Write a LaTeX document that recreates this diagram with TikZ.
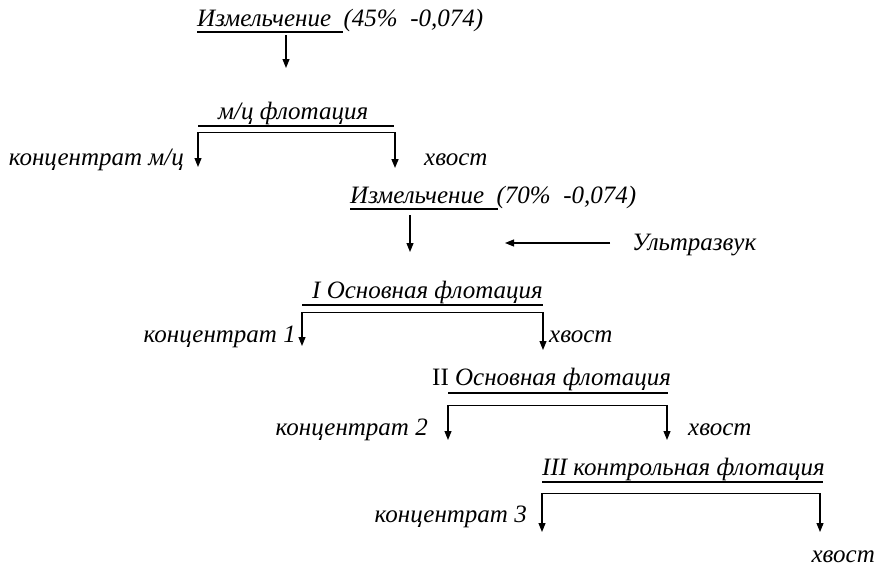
\documentclass[tikz,border=0pt]{standalone}
\usepackage{fontspec}
\setmainfont{Liberation Serif}
\usetikzlibrary{arrows.meta}
\tikzset{
  lbl/.style={inner sep=0pt, anchor=base west, font=\fontsize{25}{29}\selectfont\itshape},
  lble/.style={lbl, anchor=base east},
  ulin/.style={line width=1.4pt},
  seclin/.style={line width=0.9pt},
  arr/.style={line width=1.1pt, -{Triangle[width=7pt,length=9pt]}},
}
\begin{document}
\begin{tikzpicture}[x=1pt,y=-1pt]
\useasboundingbox (0,0) rectangle (877,570);
% stage 1
\node[lbl] (g1) at (197,27) {Измельчение\ \ (45\%\ \ -0,074)};
\draw[ulin] (197,32) -- (343,32);
\coordinate (a1s) at (286,35); \coordinate (a1e) at (286,68);
\draw[arr] (a1s) -- (a1e);
% stage 2
\node[lbl] (f1) at (218,119) {м/ц флотация};
\draw[ulin] (198,126) -- (394,126);
\coordinate (f1l) at (198,132); \coordinate (f1r) at (395,132);
\draw[seclin] (f1l) -- (f1r);
\node[lble] (c0) at (184,165) {концентрат м/ц};
\node[lbl] (h0) at (424,165) {хвост};
\coordinate (f1le) at (198,167); \coordinate (f1re) at (395,168);
\draw[arr] (f1l) -- (f1le);
\draw[arr, line width=1.6pt] (f1r) -- (f1re);
% stage 3
\node[lbl] (g2) at (350,203) {Измельчение\ \ (70\%\ \ -0,074)};
\draw[ulin] (350,209) -- (498,209);
\coordinate (a2s) at (410,215); \coordinate (a2e) at (410,252);
\draw[arr] (a2s) -- (a2e);
\node[lbl] (u) at (632,250) {Ультразвук};
\coordinate (us) at (610,243); \coordinate (ue) at (505,243);
\draw[arr] (us) -- (ue);
% stage 4
\node[lbl] (t1) at (312,298) {I Основная флотация};
\draw[ulin] (302,305) -- (543,305);
\coordinate (t1l) at (302,312); \coordinate (t1r) at (543,312);
\draw[seclin] (t1l) -- (t1r);
\node[lble] (c1) at (296,342) {концентрат 1};
\node[lbl] (h1) at (549,342) {хвост};
\coordinate (t1le) at (302,346); \coordinate (t1re) at (543,350);
\draw[arr] (t1l) -- (t1le);
\draw[arr] (t1r) -- (t1re);
% stage 5
\node[lbl] (t2) at (432,385) {\textup{II} Основная флотация};
\draw[ulin] (448,393) -- (668,393);
\coordinate (t2l) at (448,405); \coordinate (t2r) at (667,405);
\draw[seclin] (t2l) -- (t2r);
\node[lble] (c2) at (428,435) {концентрат 2};
\node[lbl] (h2) at (688,435) {хвост};
\coordinate (t2le) at (448,440); \coordinate (t2re) at (667,440);
\draw[arr] (t2l) -- (t2le);
\draw[arr] (t2r) -- (t2re);
% stage 6
\node[lbl] (t3) at (542,475) {III контрольная флотация};
\draw[ulin] (542,482) -- (823,482);
\coordinate (t3l) at (542,493); \coordinate (t3r) at (820,493);
\draw[seclin] (t3l) -- (t3r);
\node[lble] (c3) at (527,522) {концентрат 3};
\node[lble] (h3) at (875,562) {хвост};
\coordinate (t3le) at (542,532); \coordinate (t3re) at (820,532);
\draw[arr] (t3l) -- (t3le);
\draw[arr] (t3r) -- (t3re);
\end{tikzpicture}
\end{document}
